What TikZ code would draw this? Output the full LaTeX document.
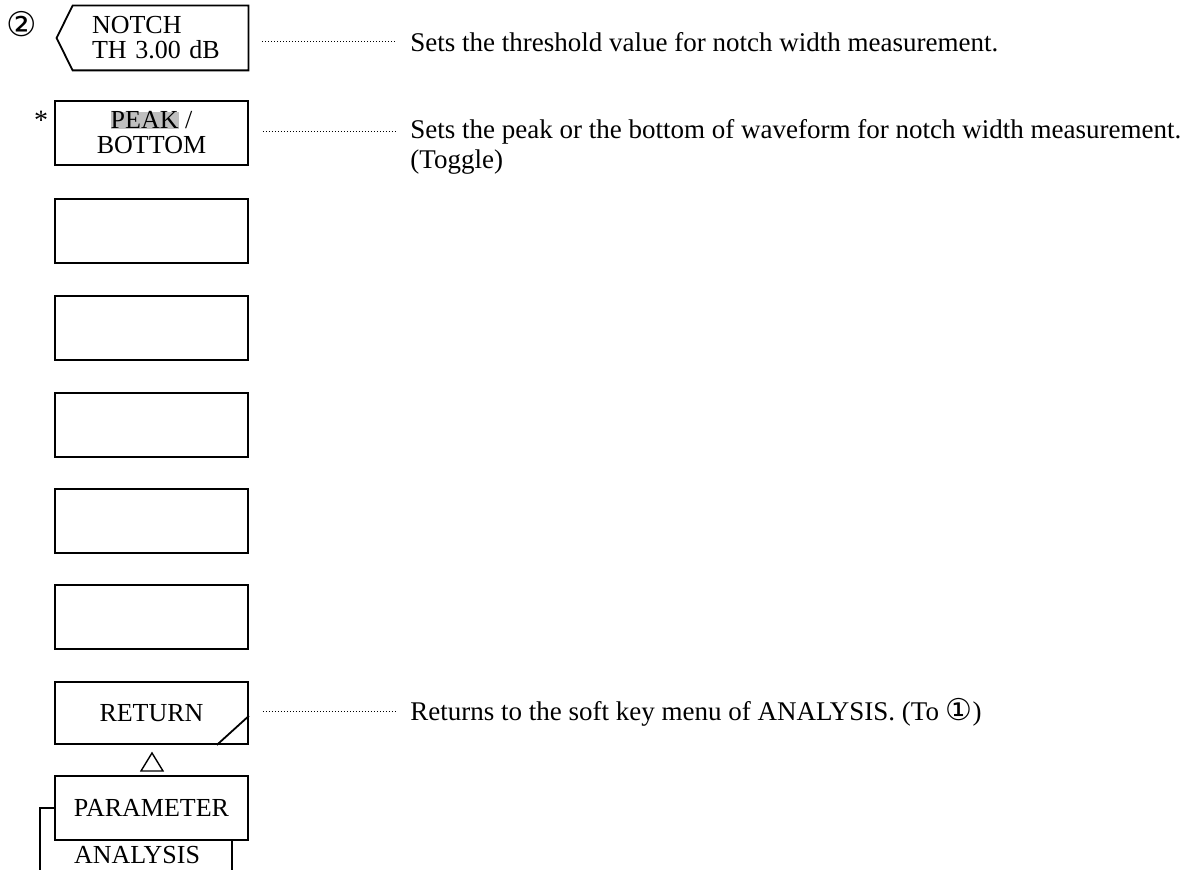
\documentclass[tikz,border=0pt]{standalone}
\usepackage{fontspec}
\setmainfont{Liberation Serif}
\newfontfamily\dejavu{DejaVu Sans}
\begin{document}
\begin{tikzpicture}[x=0.5pt,y=-0.5pt,
  keybox/.style={draw, line width=0.9pt, minimum width=96.5pt, minimum height=32pt, inner sep=0pt,
                 font=\fontsize{13}{12.5}\selectfont, align=center},
  desc/.style={anchor=west, inner sep=0pt, font=\fontsize{13.5}{15}\selectfont},
  lead/.style={densely dotted, line width=0.5pt},
  thin/.style={line width=0.7pt}]
\useasboundingbox (0,0) rectangle (1190,870);
% circled number and asterisk
\node[font=\dejavu\fontsize{17}{17}\selectfont, inner sep=0pt] (num) at (22,24) {②};
\node[font=\fontsize{14}{14}\selectfont, inner sep=0pt] (star) at (41,120) {*};
% NOTCH key (pointed)
\node[minimum height=32pt, inner ysep=0pt, inner xsep=9.5pt, text width=68.5pt, align=left,
      font=\fontsize{13}{12.5}\selectfont] (notch) at (160.5,38) {NOTCH\\TH 3.00 dB};
\draw[line width=0.9pt] (notch.north west) -- (notch.north east) -- (notch.south east)
   -- (notch.south west) -- ([xshift=-8pt]notch.west) -- cycle;
% keys
\node[keybox] (peak) at (151.5,133) {{\setlength\fboxsep{0pt}\colorbox{black!25}{PEAK}} /\\BOTTOM};
\node[keybox] (k3) at (151.5,231) {};
\node[keybox] (k4) at (151.5,328) {};
\node[keybox] (k5) at (151.5,425) {};
\node[keybox] (k6) at (151.5,521) {};
\node[keybox] (k7) at (151.5,617) {};
\node[keybox, minimum height=31pt] (ret) at (151.5,713) {RETURN};
\draw[line width=0.9pt] ([xshift=-16pt]ret.south east) -- ([yshift=14.5pt]ret.south east);
\draw[thin] (152,753) -- (163,771) -- (141,771) -- cycle;
\node[keybox] (param) at (151.5,808) {PARAMETER};
\node[inner sep=0pt, font=\fontsize{13}{13}\selectfont] (ana) at (137,855) {ANALYSIS};
\coordinate (bl) at (40,870);
\coordinate (br) at (232,870);
\draw[thin] (param.west) -| (bl);
\draw[thin] (br |- param.south) -- (br);
% descriptions
\node[desc] (d1) at (410,42) {Sets the threshold value for notch width measurement.};
\node[desc] (d2) at (410,132) {Sets the peak or the bottom of waveform for notch width measurement.};
\node[desc] (d2b) at (410,162) {(Toggle)};
\node[desc] (d3) at (410,712) {Returns to the soft key menu of ANALYSIS. (To {\dejavu\fontsize{15}{15}\selectfont ①})};
% leaders
\draw[lead] ([xshift=7pt]d1.west -| notch.east) -- ([xshift=-7.5pt]d1.west);
\draw[lead] ([xshift=7pt]d2.west -| peak.east) -- ([xshift=-7.5pt]d2.west);
\draw[lead] ([xshift=7pt]d3.west -| ret.east) -- ([xshift=-7.5pt]d3.west);
\end{tikzpicture}
\end{document}
